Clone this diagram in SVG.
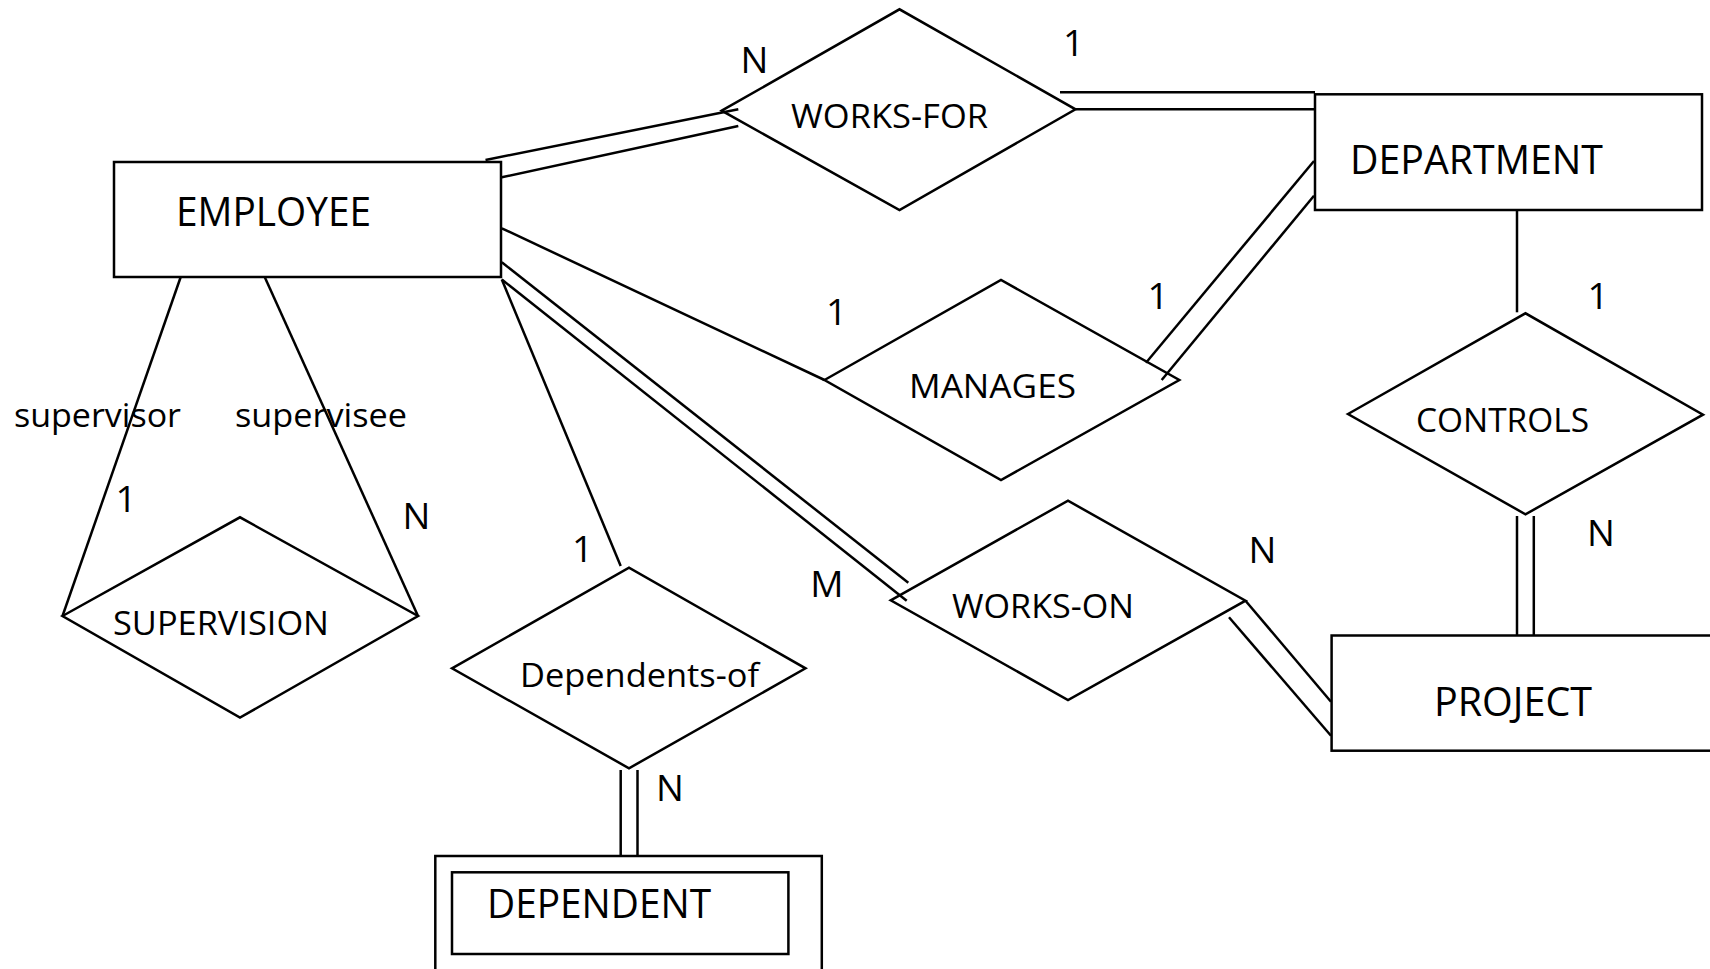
<svg xmlns="http://www.w3.org/2000/svg" width="1710" height="969" viewBox="0 0 1710 969">
<style>
  .shape { fill: #ffffff; stroke: #000000; stroke-width: 2.5; }
  .line { fill: none; stroke: #000000; stroke-width: 2.5; }
  text { font-family: "Open Sans", "Liberation Sans", sans-serif; fill: #000000; }
  .ent { font-size: 40px; }
  .rel { font-size: 33px; }
  .card { font-size: 37px; text-anchor: middle; }
</style>
<rect x="0" y="0" width="1710" height="969" fill="#ffffff"/>
<g id="connectors">
  <!-- EMPLOYEE - WORKS-FOR (double) -->
  <line class="line" x1="485.5" y1="160" x2="738.3" y2="109.3"/>
  <line class="line" x1="501.8" y1="177.3" x2="738.3" y2="126"/>
  <!-- WORKS-FOR - DEPARTMENT (double) -->
  <line class="line" x1="1060" y1="92.3" x2="1315" y2="92.3"/>
  <line class="line" x1="1075.5" y1="109.3" x2="1315" y2="109.3"/>
  <!-- EMPLOYEE - MANAGES -->
  <line class="line" x1="501.8" y1="228.3" x2="824.5" y2="380"/>
  <!-- MANAGES - DEPARTMENT (double) -->
  <line class="line" x1="1314" y1="161" x2="1146" y2="362.7"/>
  <line class="line" x1="1314" y1="195.7" x2="1161.7" y2="380"/>
  <!-- DEPARTMENT - CONTROLS -->
  <line class="line" x1="1517" y1="210" x2="1517" y2="312.3"/>
  <!-- CONTROLS - PROJECT (double) -->
  <line class="line" x1="1517" y1="516" x2="1517" y2="635"/>
  <line class="line" x1="1533.8" y1="516" x2="1533.8" y2="635"/>
  <!-- EMPLOYEE - WORKS-ON (double) -->
  <line class="line" x1="501.8" y1="262.3" x2="908.3" y2="582.7"/>
  <line class="line" x1="501.8" y1="279.5" x2="906.7" y2="600.7"/>
  <!-- WORKS-ON - PROJECT (double) -->
  <line class="line" x1="1245.5" y1="600.7" x2="1331" y2="701.7"/>
  <line class="line" x1="1229" y1="617.3" x2="1331" y2="735.7"/>
  <!-- EMPLOYEE - Dependents-of -->
  <line class="line" x1="501.8" y1="279.5" x2="620.7" y2="566"/>
  <!-- Dependents-of - DEPENDENT (double) -->
  <line class="line" x1="620.7" y1="770" x2="620.7" y2="856"/>
  <line class="line" x1="637.5" y1="770" x2="637.5" y2="856"/>
  <!-- EMPLOYEE - SUPERVISION (supervisor / supervisee) -->
  <line class="line" x1="180.7" y1="277" x2="62.5" y2="616"/>
  <line class="line" x1="264.7" y1="277" x2="418" y2="616"/>
</g>
<g id="employee">
  <rect class="shape" x="114" y="162" width="387" height="115"/>
  <text class="ent" x="176" y="226" textLength="195" lengthAdjust="spacingAndGlyphs">EMPLOYEE</text>
</g>
<g id="department">
  <rect class="shape" x="1315" y="94.3" width="387" height="115.7"/>
  <text class="ent" x="1350" y="174" textLength="253" lengthAdjust="spacingAndGlyphs">DEPARTMENT</text>
</g>
<g id="project">
  <rect class="shape" x="1331.6" y="635.5" width="400" height="115.2"/>
  <text class="ent" x="1434" y="716" textLength="158" lengthAdjust="spacingAndGlyphs">PROJECT</text>
</g>
<g id="dependent">
  <rect class="shape" x="435.3" y="856" width="386.5" height="140"/>
  <rect class="shape" x="452" y="872.3" width="336.4" height="81.7"/>
  <text class="ent" x="487" y="918" textLength="224" lengthAdjust="spacingAndGlyphs">DEPENDENT</text>
</g>
<g id="works-for">
  <polygon class="shape" fill-opacity="0" points="721.7,110.7 899.5,9.3 1075.5,109.3 899.5,210"/>
  <text class="rel" x="791" y="128" textLength="197" lengthAdjust="spacingAndGlyphs">WORKS-FOR</text>
</g>
<g id="manages">
  <polygon class="shape" fill-opacity="0" points="824.5,380 1001,280 1179.3,380 1001,480"/>
  <text class="rel" x="909" y="398" textLength="167" lengthAdjust="spacingAndGlyphs">MANAGES</text>
</g>
<g id="controls">
  <polygon class="shape" fill-opacity="0" points="1348,414 1525.5,313.3 1703,414.7 1525.5,514.3"/>
  <text class="rel" x="1416" y="432" textLength="173" lengthAdjust="spacingAndGlyphs">CONTROLS</text>
</g>
<g id="works-on">
  <polygon class="shape" fill-opacity="0" points="890.7,600.3 1068,500.7 1245.5,600.7 1068,700"/>
  <text class="rel" x="952" y="618" textLength="182" lengthAdjust="spacingAndGlyphs">WORKS-ON</text>
</g>
<g id="supervision">
  <polygon class="shape" fill-opacity="0" points="62.5,616 240,517.3 418,616 240,717.6"/>
  <text class="rel" x="113" y="635" textLength="216" lengthAdjust="spacingAndGlyphs">SUPERVISION</text>
</g>
<g id="dependents-of">
  <polygon class="shape" fill-opacity="0" points="452,668.3 629,567.7 805.5,668.3 629,768.3"/>
  <text class="rel" x="520" y="687" textLength="239" lengthAdjust="spacingAndGlyphs">Dependents-of</text>
</g>
<g id="labels">
  <text class="rel" x="14" y="427" textLength="167" lengthAdjust="spacingAndGlyphs">supervisor</text>
  <text class="rel" x="235" y="427" textLength="172" lengthAdjust="spacingAndGlyphs">supervisee</text>
  <text class="card" x="754.4" y="72.7">N</text>
  <text class="card" x="1073.5" y="56">1</text>
  <text class="card" x="836.5" y="325">1</text>
  <text class="card" x="1158" y="309">1</text>
  <text class="card" x="1598" y="309">1</text>
  <text class="card" x="1601" y="546">N</text>
  <text class="card" x="1262.4" y="563.3">N</text>
  <text class="card" x="827" y="596.7">M</text>
  <text class="card" x="582.7" y="562.3">1</text>
  <text class="card" x="670" y="801">N</text>
  <text class="card" x="126" y="511.7">1</text>
  <text class="card" x="416.4" y="529.3">N</text>
</g>
</svg>
